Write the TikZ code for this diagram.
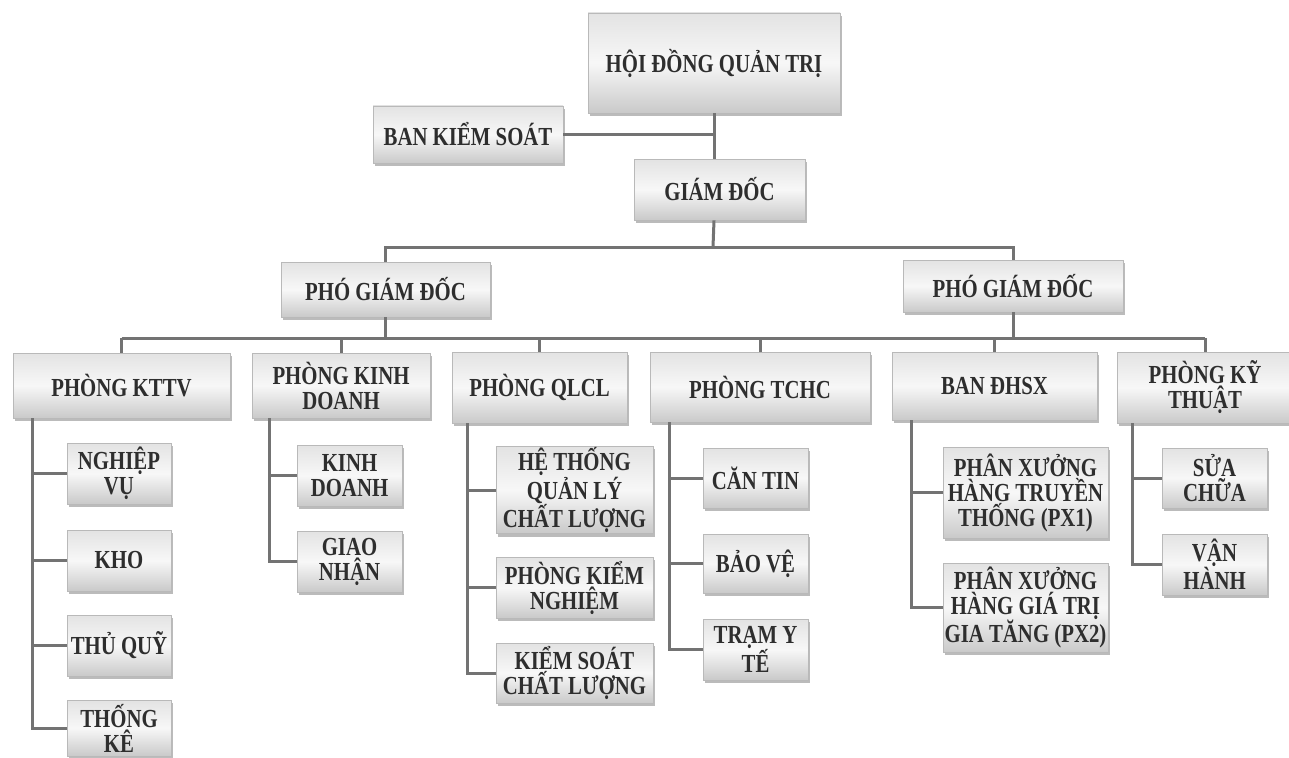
\documentclass[tikz,border=0pt]{standalone}
\usepackage{fontspec}
\setmainfont{Liberation Serif}[FakeStretch=0.8]
\usetikzlibrary{shadows}
\tikzset{orgbox/.style 2 args = {draw = gray!55, line width = 0.8pt, top color = gray!22, bottom color = gray!42, middle color = white!94!gray, drop shadow = {shadow xshift = 2pt, shadow yshift = -3pt, fill = gray!75, opacity = 0.7}, align = center, inner sep = 1pt, minimum width = #1pt, minimum height = #2pt, text = black!82, font = \fontsize{26}{25}\selectfont\bfseries}}
\tikzset{link/.style = {draw = black!55, line width = 3pt}}

\begin{document}
\begin{tikzpicture}[x = 1pt, y = -1pt]
    \fill [white] (0, 0) rectangle (1289, 757);
    \useasboundingbox (0, 0) rectangle (1289, 757);

    \node [orgbox = {252}{100}] (hdqt) at (714, 63) {HỘI ĐỒNG QUẢN TRỊ};
    \node [orgbox = {190}{57}] (bks) at (468, 134.5) {BAN KIỂM SOÁT};
    \node [orgbox = {171}{61}] (gd) at (719.5, 189.5) {GIÁM ĐỐC};

    \node [orgbox = {209}{55}] (pgd1) at (385.5, 289.5) {PHÓ GIÁM ĐỐC};
    \node [orgbox = {220}{52}] (pgd2) at (1013, 286) {PHÓ GIÁM ĐỐC};

    \node [orgbox = {217}{65}] (kttv) at (121.5, 385.5) {PHÒNG KTTV};
    \node [orgbox = {178}{65}] (kd) at (341, 385.5) {PHÒNG KINH\\DOANH};
    \node [orgbox = {175}{71}] (qlcl) at (539.5, 387.5) {PHÒNG QLCL};
    \node [orgbox = {220}{70}] (tchc) at (760, 387) {PHÒNG TCHC};
    \node [orgbox = {205}{68}] (dhsx) at (994.5, 386) {BAN ĐHSX};
    \node [orgbox = {176}{71}] (kt) at (1205, 387.5) {PHÒNG KỸ\\THUẬT};

    \node [orgbox = {104}{61}] (nv) at (119, 473.5) {NGHIỆP\\VỤ};
    \node [orgbox = {104}{61}] (kho) at (119, 560.5) {KHO};
    \node [orgbox = {104}{61}] (tq) at (119, 645.5) {THỦ QUỸ};
    \node [orgbox = {104}{56}] (tk) at (119, 728) {THỐNG\\KÊ};

    \node [orgbox = {105}{61}] (kdd) at (349.5, 475.5) {KINH\\DOANH};
    \node [orgbox = {105}{61}] (gn) at (349.5, 561.5) {GIAO\\NHẬN};

    \node [orgbox = {157}{84}] (ht) at (574.5, 490) {HỆ THỐNG\\QUẢN LÝ\\CHẤT LƯỢNG};
    \node [orgbox = {157}{61}] (pkn) at (574.5, 587.5) {PHÒNG KIỂM\\NGHIỆM};
    \node [orgbox = {157}{60}] (ksc) at (574.5, 673) {KIỂM SOÁT\\CHẤT LƯỢNG};

    \node [orgbox = {105}{60}] (ct) at (755.5, 478) {CĂN TIN};
    \node [orgbox = {105}{59}] (bv) at (755.5, 563.5) {BẢO VỆ};
    \node [orgbox = {105}{61}] (tyt) at (755.5, 649.5) {TRẠM Y\\TẾ};

    \node [orgbox = {165}{91}] (px1) at (1025.5, 492.5) {PHÂN XƯỞNG\\HÀNG TRUYỀN\\THỐNG (PX1)};
    \node [orgbox = {165}{89}] (px2) at (1025.5, 607.5) {PHÂN XƯỞNG\\HÀNG GIÁ TRỊ\\GIA TĂNG (PX2)};

    \node [orgbox = {105}{60}] (sc) at (1214.5, 478) {SỬA\\CHỮA};
    \node [orgbox = {105}{61}] (vh) at (1214.5, 564.5) {VẬN\\HÀNH};

    \coordinate (bus1) at (713, 247);
    \coordinate (bus2) at (713, 338);

    \draw [link] (hdqt.south) -- (hdqt.south |- gd.north);
    \draw [link] (bks.east) -- (bks.east -| hdqt.south);
    \draw [link] (gd.south -| hdqt.south) -- (bus1);
    \draw [link] (pgd1.north) -- (pgd1.north |- bus1) -- (pgd2.north |- bus1) -- (pgd2.north);

    \draw [link] (kttv.north |- bus2) -- (kt.north |- bus2);
    \draw [link] (pgd1.south) -- (pgd1.south |- bus2);
    \draw [link] (pgd2.south) -- (pgd2.south |- bus2);
    \foreach \n in {kttv, kd, qlcl, tchc, dhsx, kt}
        \draw [link] (\n.north) -- (\n.north |- bus2);

    \coordinate (kttv-s) at ([xshift=20pt]kttv.south west);
    \draw [link] (kttv-s) |- (tk.west);
    \foreach \c in {nv, kho, tq}
        \draw [link] (kttv-s |- \c.west) -- (\c.west);

    \coordinate (kd-s) at ([xshift=18pt]kd.south west);
    \draw [link] (kd-s) |- (gn.west);
    \draw [link] (kd-s |- kdd.west) -- (kdd.west);

    \coordinate (qlcl-s) at ([xshift=16pt]qlcl.south west);
    \draw [link] (qlcl-s) |- (ksc.west);
    \foreach \c in {ht, pkn}
        \draw [link] (qlcl-s |- \c.west) -- (\c.west);

    \coordinate (tchc-s) at ([xshift=20pt]tchc.south west);
    \draw [link] (tchc-s) |- (tyt.west);
    \foreach \c in {ct, bv}
        \draw [link] (tchc-s |- \c.west) -- (\c.west);

    \coordinate (dhsx-s) at ([xshift=20pt]dhsx.south west);
    \draw [link] (dhsx-s) |- (px2.west);
    \draw [link] (dhsx-s |- px1.west) -- (px1.west);

    \coordinate (kt-s) at ([xshift=16pt]kt.south west);
    \draw [link] (kt-s) |- (vh.west);
    \draw [link] (kt-s |- sc.west) -- (sc.west);
\end{tikzpicture}
\end{document}
